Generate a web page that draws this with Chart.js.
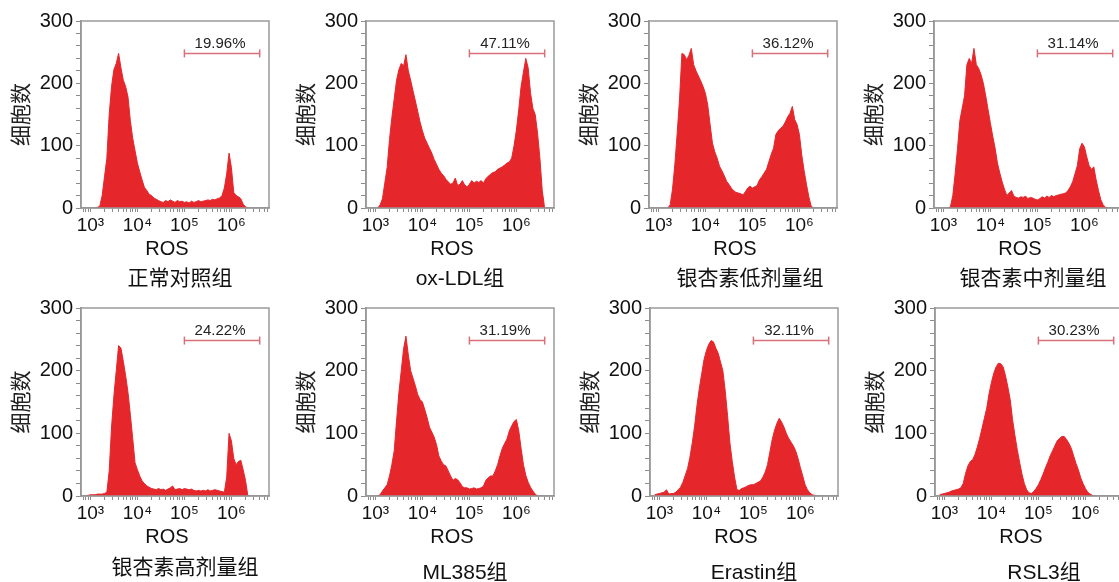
<!DOCTYPE html>
<html>
<head>
<meta charset="utf-8">
<script src="https://cdn.jsdelivr.net/npm/chart.js@4.4.1/dist/chart.umd.min.js"></script>
<style>
  html, body { margin: 0; padding: 0; background: #fff; overflow: hidden; }
  #figure { position: relative; width: 1119px; height: 582px; }
  .panel { position: absolute; }
</style>
</head>
<body>
<div id="figure"></div>
<script>
// log10 of ROS fluorescence at each histogram bin
const binLog10 = [
  2.9, 2.95, 3.0, 3.05, 3.1, 3.15, 3.2, 3.25, 3.3, 3.35,
  3.4, 3.45, 3.5, 3.55, 3.6, 3.65, 3.7, 3.75, 3.8, 3.85,
  3.9, 3.95, 4.0, 4.05, 4.1, 4.15, 4.2, 4.25, 4.3, 4.35,
  4.4, 4.45, 4.5, 4.55, 4.6, 4.65, 4.7, 4.75, 4.8, 4.85,
  4.9, 4.95, 5.0, 5.05, 5.1, 5.15, 5.2, 5.25, 5.3, 5.35,
  5.4, 5.45, 5.5, 5.55, 5.6, 5.65, 5.7, 5.75, 5.8, 5.85,
  5.9, 5.95, 6.0, 6.05, 6.1, 6.15, 6.2, 6.25, 6.3, 6.35,
  6.4, 6.45, 6.5, 6.55, 6.6
];

const groupNames = ['正常对照组', 'ox-LDL组', '银杏素低剂量组', '银杏素中剂量组',
                    '银杏素高剂量组', 'ML385组', 'Erastin组', 'RSL3组'];
const gatePercents = ['19.96%', '47.11%', '36.12%', '31.14%',
                      '24.22%', '31.19%', '32.11%', '30.23%'];
const gateBounds = [1e5, 4e6];
const gateLevel = 248;

const xTickValues = [700, 800, 900,
  1e3, 2e3, 3e3, 4e3, 5e3, 6e3, 7e3, 8e3, 9e3,
  1e4, 2e4, 3e4, 4e4, 5e4, 6e4, 7e4, 8e4, 9e4,
  1e5, 2e5, 3e5, 4e5, 5e5, 6e5, 7e5, 8e5, 9e5,
  1e6, 2e6, 3e6, 4e6, 5e6, 6e6];
const xTickLabels = { 1000: '10³', 10000: '10⁴', 100000: '10⁵', 1000000: '10⁶' };

// cell counts per bin
const countsControl = [
  0, 0, 0, 0, 0, 1, 3, 20, 50, 80,
  150, 195, 222, 232, 248, 225, 205, 195, 178, 140,
  112, 92, 72, 58, 45, 33, 28, 22, 20, 16,
  14, 12, 10, 9, 12, 10, 13, 11, 9, 12,
  10, 11, 9, 10, 8, 11, 9, 10, 12, 10,
  11, 12, 13, 12, 14, 13, 15, 16, 20, 32,
  55, 88, 65, 25, 20, 18, 15, 6, 2, 0,
  0, 0, 0, 0, 0
];
const countsOxLdl = [
  0, 0, 0, 0, 5, 15, 40, 65, 110, 145,
  175, 205, 222, 232, 228, 246, 220, 205, 188, 172,
  155, 138, 124, 112, 104, 96, 88, 78, 70, 62,
  56, 52, 46, 42, 38, 40, 48, 36, 38, 44,
  37, 34, 38, 44, 40, 43, 41, 44, 40, 47,
  51, 54, 57, 58, 62, 64, 66, 69, 72, 74,
  80, 100, 125, 158, 195, 218, 240, 225, 185, 160,
  150, 120, 80, 28, 0
];
const countsLowDose = [
  0, 0, 0, 0, 0, 0, 0, 5, 30, 70,
  120, 175, 248, 246, 238, 245, 256, 230, 220, 212,
  204, 195, 184, 165, 134, 104, 90, 80, 67, 60,
  52, 43, 38, 32, 28, 25, 24, 23, 21, 26,
  32, 35, 32, 34, 36, 45, 50, 56, 62, 74,
  86, 96, 118, 124, 128, 131, 138, 146, 152, 163,
  142, 134, 118, 85, 60, 38, 18, 3, 0, 0,
  0, 0, 0, 0, 0
];
const countsMidDose = [
  0, 0, 0, 0, 0, 2, 20, 55, 95, 140,
  160, 180, 230, 240, 232, 256, 230, 224, 214, 200,
  180, 158, 136, 115, 96, 72, 56, 42, 30, 20,
  24, 28, 19, 17, 16, 18, 17, 19, 15, 17,
  16, 14, 13, 15, 18, 16, 19, 17, 20, 18,
  20, 21, 22, 23, 24, 28, 34, 42, 55, 68,
  95, 104, 98, 82, 68, 62, 66, 45, 28, 13,
  5, 1, 0, 0, 0
];
const countsHighDose = [
  0, 1, 2, 2, 2, 3, 3, 3, 4, 6,
  40, 110, 160, 200, 240, 236, 215, 192, 165, 130,
  92, 53, 42, 32, 24, 20, 16, 14, 12, 11,
  10, 12, 10, 11, 9, 11, 13, 16, 10, 11,
  12, 10, 12, 11, 10, 11, 9, 8, 9, 8,
  9, 8, 10, 8, 9, 10, 9, 8, 7, 6,
  30, 100, 88, 60, 50, 55, 57, 42, 25, 0,
  0, 0, 0, 0, 0
];
const countsMl385 = [
  0, 0, 0, 0, 2, 8, 13, 18, 32, 50,
  72, 120, 165, 200, 235, 255, 225, 200, 188, 176,
  162, 154, 150, 138, 125, 110, 102, 94, 82, 64,
  56, 50, 48, 40, 32, 25, 28, 26, 21, 15,
  13, 13, 11, 12, 13, 11, 12, 13, 16, 25,
  29, 32, 32, 40, 50, 64, 76, 84, 91, 104,
  112, 119, 122, 104, 76, 50, 33, 22, 14, 8,
  3, 0, 0, 0, 0
];
const countsErastin = [
  2, 3, 4, 5, 6, 10, 3, 4, 4, 6,
  10, 14, 22, 33, 44, 62, 85, 112, 145, 172,
  195, 218, 232, 242, 248, 246, 236, 228, 214, 200,
  168, 128, 85, 55, 30, 10, 9, 12, 13, 15,
  17, 18, 18, 20, 22, 24, 30, 38, 50, 70,
  90, 105, 116, 124, 118, 110, 100, 92, 86, 80,
  72, 60, 45, 32, 18, 10, 5, 2, 1, 0,
  0, 0, 0, 0, 0
];
const countsRsl3 = [
  2, 3, 4, 5, 6, 8, 9, 10, 11, 13,
  20, 36, 48, 55, 58, 66, 78, 92, 108, 124,
  140, 163, 181, 196, 206, 212, 211, 206, 192, 174,
  154, 122, 97, 74, 54, 35, 20, 10, 5, 4,
  7, 12, 18, 26, 35, 45, 54, 64, 72, 80,
  88, 92, 95, 95, 90, 84, 76, 64, 52, 42,
  29, 20, 12, 6, 3, 1, 0, 0, 0, 0,
  0, 0, 0, 0, 0
];

const panelCounts = [countsControl, countsOxLdl, countsLowDose, countsMidDose,
                     countsHighDose, countsMl385, countsErastin, countsRsl3];

// page placement of each plot area (left/top of the framed box)
const panelBoxes = [
  { left: 81, top: 21, h: 187, nameDx: 5, nameDy: 71 },
  { left: 366, top: 21, h: 187, nameDx: 0, nameDy: 71 },
  { left: 649, top: 21, h: 187, nameDx: 7, nameDy: 71 },
  { left: 934, top: 21, h: 187, nameDx: 5, nameDy: 71 },
  { left: 81, top: 308, h: 188, nameDx: 10, nameDy: 72 },
  { left: 366, top: 308, h: 188, nameDx: 5, nameDy: 77 },
  { left: 650, top: 308, h: 188, nameDx: 10, nameDy: 77 },
  { left: 935, top: 308, h: 188, nameDx: 15, nameDy: 77 }
];

const RED = '#e5262b';
const GATE = '#d8707a';
const AXIS_GRAY = '#8c8c8c';
const FONT = '"Liberation Sans", Arial, "Noto Sans CJK SC", sans-serif';
const Y_AXIS_W = 81;
const X_AXIS_H = 30;
const PLOT_W = 188;

const panelText = {
  id: 'panelText',
  afterDraw(chart, args, opts) {
    const { ctx, chartArea: a, scales } = chart;
    ctx.save();
    ctx.strokeStyle = '#9a9a9a';
    ctx.lineWidth = 1.5;
    ctx.strokeRect(a.left, a.top, a.right - a.left, a.bottom - a.top);

    const x0 = scales.x.getPixelForValue(gateBounds[0]);
    const x1 = scales.x.getPixelForValue(gateBounds[1]);
    const gy = scales.y.getPixelForValue(gateLevel);
    ctx.fillStyle = '#222';
    ctx.textAlign = 'center';
    ctx.textBaseline = 'middle';
    ctx.font = '15px ' + FONT;
    ctx.fillText(opts.percent, (x0 + x1) / 2 - 2, gy - 10);

    const cx = (a.left + a.right) / 2;
    ctx.fillStyle = '#111';
    ctx.font = '20px ' + FONT;
    ctx.fillText('ROS', cx - 8, a.bottom + 41);
    ctx.font = '21px ' + FONT;
    ctx.fillText(opts.name, cx + opts.nameDx, a.bottom + opts.nameDy);
    ctx.restore();
  }
};

function makePanel(i) {
  const box = panelBoxes[i];
  const canvasW = Y_AXIS_W + PLOT_W + 12;
  const canvasH = i < 4 ? 290 : 295;
  const wrap = document.createElement('div');
  wrap.className = 'panel';
  wrap.style.left = (box.left - Y_AXIS_W) + 'px';
  wrap.style.top = (box.top - 21) + 'px';
  wrap.style.width = canvasW + 'px';
  wrap.style.height = canvasH + 'px';
  const canvas = document.createElement('canvas');
  wrap.appendChild(canvas);
  document.getElementById('figure').appendChild(wrap);

  const counts = panelCounts[i];
  const points = binLog10.map((e, k) => ({ x: Math.pow(10, e), y: counts[k] }));

  new Chart(canvas, {
    type: 'line',
    data: {
      datasets: [
        {
          data: points,
          fill: 'origin',
          backgroundColor: RED,
          borderColor: RED,
          borderWidth: 1,
          pointRadius: 0,
          tension: 0,
          order: 2,
          segment: {
            borderColor: c => (c.p0.parsed.y === 0 && c.p1.parsed.y === 0) ? 'rgba(0,0,0,0)' : undefined
          }
        },
        {
          data: gateBounds.map(x => ({ x: x, y: gateLevel })),
          fill: false,
          borderColor: GATE,
          borderWidth: 1.5,
          pointStyle: 'line',
          pointRotation: 90,
          pointRadius: 4,
          pointBorderWidth: 1.5,
          pointBorderColor: GATE,
          order: 1
        }
      ]
    },
    options: {
      responsive: true,
      maintainAspectRatio: false,
      animation: false,
      events: [],
      layout: {
        padding: { top: 21, right: 12, left: 0, bottom: canvasH - 21 - box.h - X_AXIS_H }
      },
      plugins: {
        legend: { display: false },
        tooltip: { enabled: false },
        panelText: { percent: gatePercents[i], name: groupNames[i], nameDx: box.nameDx, nameDy: box.nameDy }
      },
      scales: {
        x: {
          type: 'logarithmic',
          min: Math.pow(10, 2.8),
          max: Math.pow(10, 6.8),
          afterBuildTicks: s => { s.ticks = xTickValues.map(v => ({ value: v })); },
          afterFit: s => { s.height = X_AXIS_H; },
          ticks: {
            autoSkip: false,
            maxRotation: 0,
            padding: 2,
            color: '#111',
            font: { family: FONT, size: 19 },
            callback: v => xTickLabels[v] || ''
          },
          grid: { drawOnChartArea: false, drawTicks: true, tickLength: 4, color: AXIS_GRAY },
          border: { color: AXIS_GRAY, width: 1.5 }
        },
        y: {
          min: 0,
          max: 300,
          afterFit: s => { s.width = Y_AXIS_W; },
          ticks: {
            stepSize: 20,
            autoSkip: false,
            padding: 3,
            color: '#111',
            font: { family: FONT, size: 20 },
            callback: v => (v % 100 === 0 ? v : '')
          },
          grid: { drawOnChartArea: false, drawTicks: true, tickLength: 5, color: AXIS_GRAY },
          border: { color: AXIS_GRAY, width: 1.5 },
          title: {
            display: true,
            text: '细胞数',
            color: '#222',
            font: { family: FONT, size: 21 },
            padding: { top: 10, bottom: 0 }
          }
        }
      }
    },
    plugins: [panelText]
  });
}

for (let i = 0; i < panelBoxes.length; i++) makePanel(i);
</script>
</body>
</html>
